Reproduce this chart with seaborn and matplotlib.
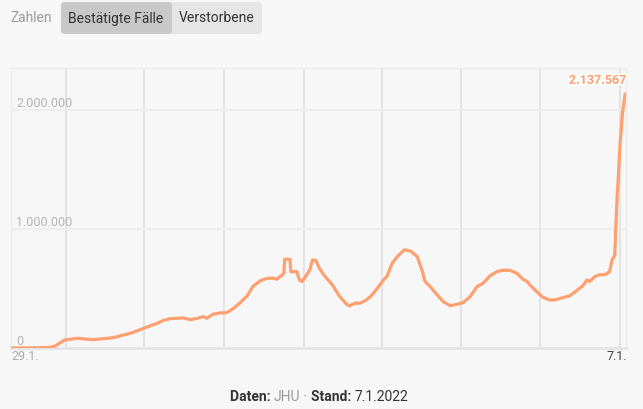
import matplotlib
matplotlib.use("Agg")
import matplotlib.pyplot as plt
import matplotlib.patheffects as pe
from matplotlib.patches import FancyBboxPatch
import matplotlib.transforms as mtransforms
import seaborn as sns
import pandas as pd

# ---- data ----
dates = [
    "2020-01-29", "2020-03-02", "2020-03-14", "2020-03-20", "2020-03-26", "2020-03-31",
    "2020-04-06", "2020-04-15", "2020-04-23", "2020-05-02", "2020-05-11", "2020-05-20",
    "2020-05-28", "2020-06-05", "2020-06-12", "2020-06-20", "2020-06-28", "2020-07-07",
    "2020-07-16", "2020-07-23", "2020-07-31", "2020-08-08", "2020-08-15", "2020-08-23",
    "2020-08-31", "2020-09-07", "2020-09-11", "2020-09-18", "2020-09-26", "2020-10-04",
    "2020-10-11", "2020-10-19", "2020-10-28", "2020-11-03", "2020-11-12", "2020-11-20",
    "2020-11-27", "2020-12-01", "2020-12-07", "2020-12-09", "2020-12-10", "2020-12-16",
    "2020-12-17", "2020-12-24", "2020-12-27", "2020-12-30", "2021-01-03", "2021-01-08",
    "2021-01-11", "2021-01-15", "2021-01-19", "2021-01-25", "2021-02-03", "2021-02-11",
    "2021-02-19", "2021-02-23", "2021-03-01", "2021-03-07", "2021-03-13", "2021-03-19",
    "2021-03-27", "2021-04-03", "2021-04-07", "2021-04-13", "2021-04-19", "2021-04-27",
    "2021-05-04", "2021-05-12", "2021-05-18", "2021-05-21", "2021-05-27", "2021-06-04",
    "2021-06-11", "2021-06-19", "2021-06-27", "2021-07-04", "2021-07-12", "2021-07-20",
    "2021-07-27", "2021-08-04", "2021-08-12", "2021-08-19", "2021-08-27", "2021-09-04",
    "2021-09-11", "2021-09-16", "2021-09-19", "2021-09-27", "2021-10-04", "2021-10-12",
    "2021-10-18", "2021-10-27", "2021-11-04", "2021-11-12", "2021-11-19", "2021-11-24",
    "2021-11-27", "2021-12-03", "2021-12-09", "2021-12-15", "2021-12-20", "2021-12-23",
    "2021-12-26", "2021-12-27", "2021-12-29", "2021-12-30", "2022-01-01", "2022-01-04",
    "2022-01-07",
]
cases = [
    0, 2000, 6000, 17000, 45000, 67000,
    73000, 82000, 76000, 70000, 76000, 82000,
    90000, 107000, 118000, 137000, 160000, 185000,
    208000, 233000, 247000, 250000, 253000, 238000,
    250000, 264000, 250000, 284000, 295000, 297000,
    329000, 377000, 441000, 516000, 567000, 587000,
    587000, 579000, 615000, 628000, 747000, 747000,
    643000, 643000, 573000, 559000, 601000, 657000,
    741000, 737000, 671000, 607000, 531000, 438000,
    371000, 354000, 377000, 377000, 399000, 432000,
    503000, 573000, 601000, 713000, 769000, 826000,
    817000, 769000, 643000, 559000, 516000, 447000,
    390000, 356000, 368000, 382000, 432000, 516000,
    545000, 607000, 643000, 654000, 654000, 629000,
    579000, 559000, 531000, 474000, 427000, 404000,
    404000, 424000, 438000, 483000, 522000, 573000,
    559000, 601000, 617000, 617000, 643000, 741000,
    780000, 970000, 1310000, 1415000, 1700000, 1980000,
    2137567,
]
y_ticks = [0, 1000000, 2000000]
y_tick_labels = ["0", "1.000.000", "2.000.000"]
x_labels = ["29.1.", "7.1."]
last_label = "2.137.567"

df = pd.DataFrame({"Datum": pd.to_datetime(dates), "Fälle": cases})

W, H = 643, 409
sns.set_theme(style="white")
plt.rcParams["font.family"] = ["Roboto", "DejaVu Sans"]
BG = "#f7f7f7"
LINE = "#ffa070"

fig = plt.figure(figsize=(W / 100, H / 100), dpi=100, facecolor=BG)
ax = fig.add_axes([11 / W, 1 - 348 / H, (626 - 11) / W, (348 - 68) / H])
ax.set_facecolor(BG)

# grid
quarters = pd.to_datetime(["2020-04-01", "2020-07-01", "2020-10-01", "2021-01-01",
                           "2021-04-01", "2021-07-01", "2021-10-01", "2022-01-01"])
for q in quarters:
    ax.axvline(q, color="#dedede", lw=1.1, zorder=1)
for v in y_ticks[1:]:
    ax.axhline(v, color="#ebebeb", lw=1.1, zorder=1)

sns.lineplot(data=df, x="Datum", y="Fälle", ax=ax, color=LINE, lw=2.3, zorder=3)

ax.set_xlim(pd.Timestamp("2020-01-29"), pd.Timestamp("2022-01-08"))
ax.set_ylim(0, 2356000)
ax.set_xticks([])
ax.set_yticks([])
ax.set_xlabel("")
ax.set_ylabel("")
for s in ["left", "top", "right"]:
    ax.spines[s].set_color("#ececec")
    ax.spines[s].set_linewidth(1)
ax.spines["bottom"].set_color("#e4e4e4")
ax.spines["bottom"].set_linewidth(2)

# y labels inside the plot
trans = mtransforms.blended_transform_factory(ax.transAxes, ax.transData)
for v, lab in zip(y_ticks, y_tick_labels):
    ax.text(5 / 615, v, lab, transform=trans, ha="left", va="bottom",
            fontsize=9, color="#b4b4b4", zorder=4)
    
# last value label
ax.text(1.0, cases[-1] + 60000, last_label, transform=trans, ha="right", va="bottom",
        fontsize=9, fontweight="bold", color=LINE, zorder=5,
        path_effects=[pe.withStroke(linewidth=3, foreground="white", alpha=0.9)])

# x labels
fig.text(11 / W, 1 - 357 / H, x_labels[0], ha="left", va="center", fontsize=9, color="#aaaaaa")
fig.text(627 / W, 1 - 357 / H, x_labels[1], ha="right", va="center", fontsize=9, color="#444444")

# header buttons
fig.text(10 / W, 1 - 18.5 / H, "Zahlen", ha="left", va="center", fontsize=10, color="#9a9a9a")
btn_light = FancyBboxPatch((61 / W, 1 - 34 / H), (262 - 61) / W, 32 / H,
                           boxstyle="round,pad=0,rounding_size=0.008",
                           transform=fig.transFigure, facecolor="#e5e5e5", edgecolor="none")
fig.patches.append(btn_light)
btn_dark = FancyBboxPatch((61 / W, 1 - 34 / H), (172 - 61) / W, 32 / H,
                          boxstyle="round,pad=0,rounding_size=0.008",
                          transform=fig.transFigure, facecolor="#c8c8c8", edgecolor="none")
fig.patches.append(btn_dark)
fig.text(116 / W, 1 - 18.5 / H, "Bestätigte Fälle", ha="center", va="center", fontsize=10, color="#333333")
fig.text(217 / W, 1 - 18.5 / H, "Verstorbene", ha="center", va="center", fontsize=10, color="#333333")

# footer with mixed styles
parts = [("Daten: ", "bold", "#333333"), ("JHU", "normal", "#999999"),
         (" · ", "normal", "#777777"), ("Stand: ", "bold", "#333333"),
         ("7.1.2022", "normal", "#333333")]
fig.canvas.draw()
renderer = fig.canvas.get_renderer()
texts = []
widths = []
for s, w, c in parts:
    t = fig.text(0, 1 - 397 / H, s, ha="left", va="center", fontsize=10, fontweight=w, color=c)
    bb = t.get_window_extent(renderer)
    texts.append(t)
    widths.append(bb.width)
total = sum(widths)
x0 = 319 - total / 2
for t, w in zip(texts, widths):
    t.set_x(x0 / W)
    x0 += w

fig.savefig("out.png", dpi=100, facecolor=BG)
